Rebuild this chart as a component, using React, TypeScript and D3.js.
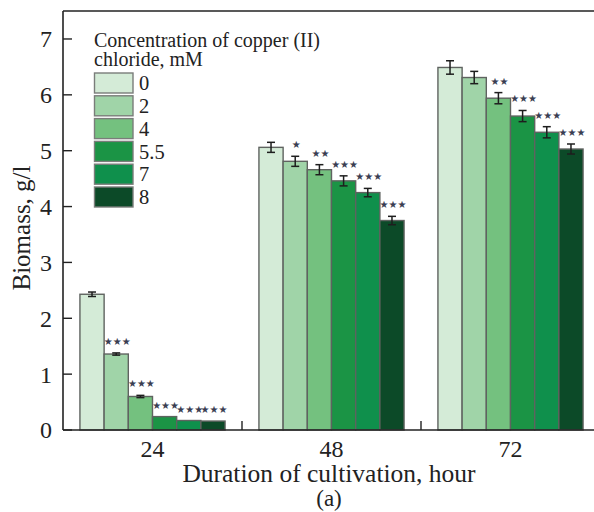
import React from "react";
import * as d3 from "d3";

const hours = ["24", "48", "72"];
const concentrations = ["0", "2", "4", "5.5", "7", "8"];
const colors = ["#d4ebd7", "#a0d4a8", "#74c17f", "#1b9445", "#0f904c", "#0c4a28"];

const biomass24 = [2.43, 1.36, 0.6, 0.24, 0.17, 0.16];
const biomass48 = [5.06, 4.81, 4.66, 4.46, 4.25, 3.75];
const biomass72 = [6.49, 6.31, 5.94, 5.62, 5.33, 5.03];

const err24 = [0.04, 0.02, 0.02, 0, 0, 0];
const err48 = [0.09, 0.09, 0.09, 0.09, 0.075, 0.075];
const err72 = [0.12, 0.11, 0.1, 0.1, 0.1, 0.09];

const sig24 = ["", "***", "***", "***", "***", "***"];
const sig48 = ["", "*", "**", "***", "***", "***"];
const sig72 = ["", "", "**", "***", "***", "***"];

const yTicks = [0, 1, 2, 3, 4, 5, 6, 7];

const groups = [
  { hour: hours[0], values: biomass24, errs: err24, sigs: sig24 },
  { hour: hours[1], values: biomass48, errs: err48, sigs: sig48 },
  { hour: hours[2], values: biomass72, errs: err72, sigs: sig72 },
];

export default function App() {
  const W = 594;
  const H = 512;
  const left = 63;
  const top = 11;
  const bottom = 430;
  const right = 600;

  const y = d3.scaleLinear().domain([0, 7]).range([bottom, bottom - 7 * 55.86]);
  const x = d3.scaleBand().domain(hours).range([left, right]).padding(0);
  const xi = d3
    .scaleBand()
    .domain(concentrations)
    .range([0, x.bandwidth()])
    .paddingInner(0)
    .paddingOuter(0.7);

  const serif = "'Liberation Serif', 'Times New Roman', serif";
  const axisColor = "#222";

  return (
    <svg
      width={W}
      height={H}
      style={{ position: "absolute", left: 0, top: 0, background: "#fff" }}
    >
      {/* bars */}
      {groups.map((g) =>
        g.values.map((v, i) => {
          const bx = (x(g.hour) as number) + (xi(concentrations[i]) as number);
          const bw = xi.bandwidth();
          return (
            <rect
              key={`b-${g.hour}-${i}`}
              x={bx}
              y={y(v)}
              width={bw}
              height={y(0) - y(v)}
              fill={colors[i]}
              stroke="#5f6360"
              strokeWidth={1.4}
            />
          );
        })
      )}
      {/* error bars */}
      {groups.map((g) =>
        g.values.map((v, i) => {
          const e = g.errs[i];
          if (!e) return null;
          const cx =
            (x(g.hour) as number) + (xi(concentrations[i]) as number) + xi.bandwidth() / 2;
          const cap = 4;
          return (
            <g key={`e-${g.hour}-${i}`} stroke="#1e1e1e" strokeWidth={1.5}>
              <line x1={cx} x2={cx} y1={y(v - e)} y2={y(v + e)} />
              <line x1={cx - cap} x2={cx + cap} y1={y(v + e)} y2={y(v + e)} />
              <line x1={cx - cap} x2={cx + cap} y1={y(v - e)} y2={y(v - e)} />
            </g>
          );
        })
      )}
      {/* significance stars */}
      {groups.map((g) =>
        g.values.map((v, i) => {
          const s = g.sigs[i];
          if (!s) return null;
          const cx =
            (x(g.hour) as number) + (xi(concentrations[i]) as number) + xi.bandwidth() / 2;
          return (
            <text
              key={`s-${g.hour}-${i}`}
              x={cx + 1}
              y={y(v + g.errs[i]) - 8}
              textAnchor="middle"
              fontFamily="'DejaVu Sans', sans-serif"
              fontSize={10}
              fill="#3a3e52"
            >
              {s.replace(/\*/g, "★")}
            </text>
          );
        })
      )}

      {/* frame */}
      <line x1={left} x2={W} y1={top} y2={top} stroke={axisColor} strokeWidth={1.6} />
      <line x1={left} x2={left} y1={top} y2={bottom} stroke={axisColor} strokeWidth={1.6} />
      <line x1={left} x2={W} y1={bottom} y2={bottom} stroke={axisColor} strokeWidth={1.6} />

      {/* y ticks */}
      {yTicks.map((t) => (
        <g key={`yt-${t}`}>
          <line x1={left} x2={left + 9} y1={y(t)} y2={y(t)} stroke={axisColor} strokeWidth={1.4} />
          <text
            x={left - 11}
            y={y(t)}
            dy="0.35em"
            textAnchor="end"
            fontFamily={serif}
            fontSize={24}
            fill="#222"
          >
            {t}
          </text>
        </g>
      ))}

      {/* x ticks between groups */}
      {hours.slice(1).map((h) => (
        <line
          key={`xt-${h}`}
          x1={x(h) as number}
          x2={x(h) as number}
          y1={bottom}
          y2={bottom - 9}
          stroke={axisColor}
          strokeWidth={1.4}
        />
      ))}
      {hours.map((h) => (
        <text
          key={`xl-${h}`}
          x={(x(h) as number) + x.bandwidth() / 2}
          y={457}
          textAnchor="middle"
          fontFamily={serif}
          fontSize={24}
          fill="#222"
        >
          {h}
        </text>
      ))}

      {/* axis titles */}
      <text
        x={329}
        y={482}
        textAnchor="middle"
        fontFamily={serif}
        fontSize={25.5}
        fill="#222"
      >
        Duration of cultivation, hour
      </text>
      <text
        x={329}
        y={506}
        textAnchor="middle"
        fontFamily={serif}
        fontSize={23}
        fill="#222"
      >
        (a)
      </text>
      <text
        transform={`translate(30, ${228}) rotate(-90)`}
        textAnchor="middle"
        fontFamily={serif}
        fontSize={25}
        fill="#222"
      >
        Biomass, g/l
      </text>

      {/* legend */}
      <text x={94} y={47} fontFamily={serif} fontSize={20} fill="#222">
        Concentration of copper (II)
      </text>
      <text x={94} y={66} fontFamily={serif} fontSize={20} fill="#222">
        chloride, mM
      </text>
      {concentrations.map((c, i) => (
        <g key={`lg-${c}`}>
          <rect
            x={94.5}
            y={73 + i * 22.8}
            width={38.5}
            height={20}
            fill={colors[i]}
            stroke="#7a7d7a"
            strokeWidth={1.4}
          />
          <text
            x={139}
            y={73 + i * 22.8 + 10}
            dy="0.35em"
            fontFamily={serif}
            fontSize={20.5}
            fill="#222"
          >
            {c}
          </text>
        </g>
      ))}
    </svg>
  );
}
